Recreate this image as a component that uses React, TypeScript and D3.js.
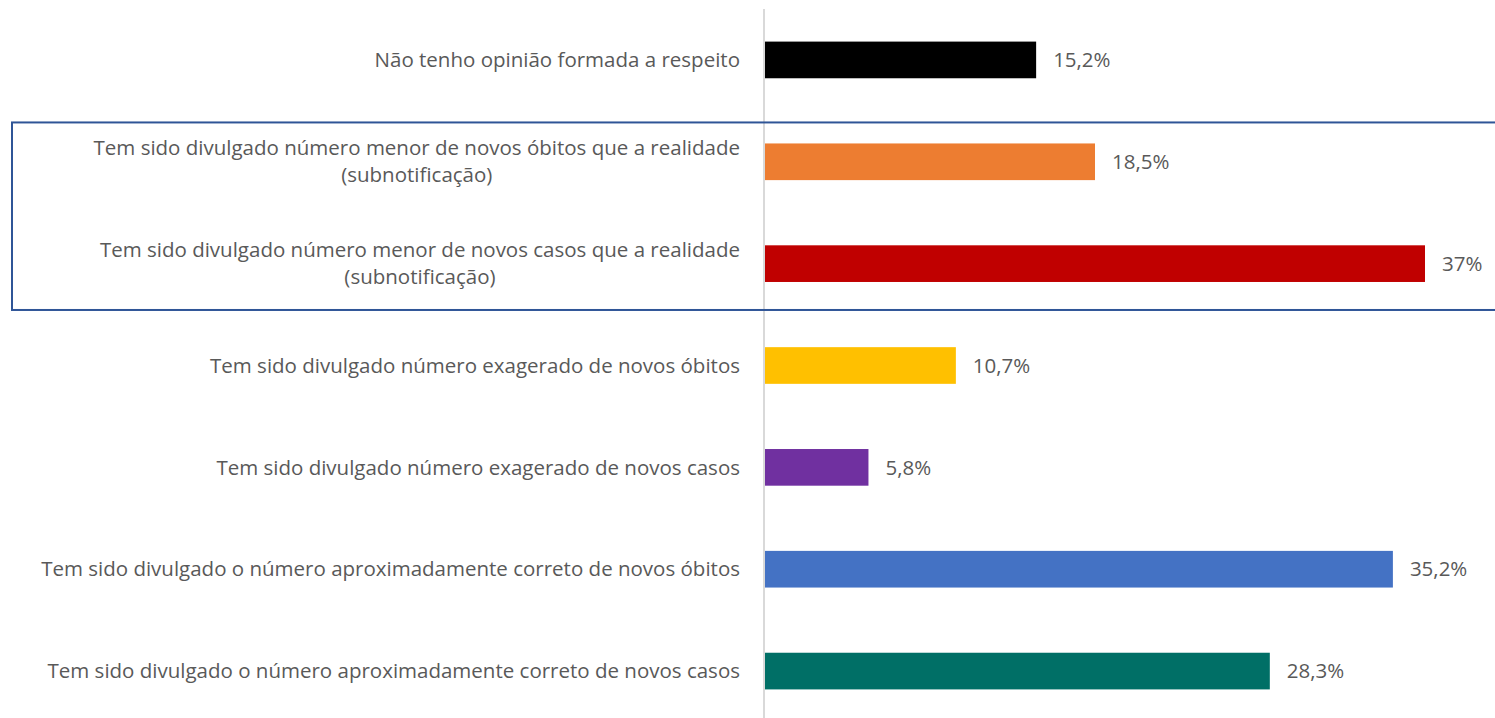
import React, { useEffect, useRef } from "react";
import * as d3 from "d3";

// Categories top to bottom, lines split where the label wraps
const categories: string[][] = [
  ["Não tenho opinião formada a respeito"],
  ["Tem sido divulgado número menor de novos óbitos que a realidade", "(subnotificação)"],
  ["Tem sido divulgado número menor de novos casos que a realidade", "(subnotificação)"],
  ["Tem sido divulgado número exagerado de novos óbitos"],
  ["Tem sido divulgado número exagerado de novos casos"],
  ["Tem sido divulgado o número aproximadamente correto de novos óbitos"],
  ["Tem sido divulgado o número aproximadamente correto de novos casos"],
];
const values: number[] = [15.2, 18.5, 37, 10.7, 5.8, 35.2, 28.3];
const valueLabels: string[] = ["15,2%", "18,5%", "37%", "10,7%", "5,8%", "35,2%", "28,3%"];
const colors: string[] = ["#000000", "#ED7D31", "#C00000", "#FFC000", "#7030A0", "#4472C4", "#006F66"];
// rows framed by the blue box
const highlighted: number[] = [1, 2];

const WIDTH = 1495;
const HEIGHT = 718;

const App = () => {
  const ref = useRef<SVGSVGElement>(null);

  useEffect(() => {
    const svg = d3.select(ref.current);
    svg.selectAll("*").remove();

    const axisX = 764;
    const labelRight = 740;
    const x = d3.scaleLinear().domain([0, 37]).range([axisX + 1, 1425]);
    const y = d3
      .scaleBand<number>()
      .domain(values.map((_, i) => i))
      .range([9, 722])
      .paddingInner(0.64)
      .paddingOuter(0.32);

    const font = "'Open Sans', sans-serif";
    const fontSize = 20.5;
    const textColor = "#595959";

    // bars
    svg
      .selectAll(".bar")
      .data(values)
      .enter()
      .append("rect")
      .attr("class", "bar")
      .attr("x", x(0))
      .attr("y", (_, i) => y(i)!)
      .attr("width", (d) => x(d) - x(0))
      .attr("height", y.bandwidth())
      .attr("fill", (_, i) => colors[i]);

    // value labels
    svg
      .selectAll(".val")
      .data(values)
      .enter()
      .append("text")
      .attr("class", "val")
      .attr("x", (d) => x(d) + 17)
      .attr("y", (_, i) => y(i)! + y.bandwidth() / 2)
      .attr("dy", "0.35em")
      .attr("font-family", font)
      .attr("font-size", fontSize)
      .attr("fill", textColor)
      .text((_, i) => valueLabels[i]);

    // category labels: block right-aligned, lines centred inside it
    const lineH = 27;
    const cat = svg
      .selectAll(".cat")
      .data(categories)
      .enter()
      .append("text")
      .attr("class", "cat")
      .attr("text-anchor", "middle")
      .attr("font-family", font)
      .attr("font-size", fontSize)
      .attr("fill", textColor);
    cat.each(function (lines, i) {
      const cy = y(i)! + y.bandwidth() / 2;
      const spans = d3
        .select(this)
        .selectAll("tspan")
        .data(lines)
        .enter()
        .append("tspan")
        .attr("y", (_, j) => cy + (j - (lines.length - 1) / 2) * lineH)
        .attr("dy", "0.35em")
        .text((d) => d);
      let maxW = 0;
      spans.each(function () {
        maxW = Math.max(maxW, (this as SVGTSpanElement).getComputedTextLength());
      });
      spans.attr("x", labelRight - maxW / 2);
    });

    // vertical axis line
    svg
      .append("line")
      .attr("x1", axisX)
      .attr("x2", axisX)
      .attr("y1", 9)
      .attr("y2", HEIGHT)
      .attr("stroke", "#D9D9D9")
      .attr("stroke-width", 2);

    // highlight box
    const first = highlighted[0];
    const last = highlighted[highlighted.length - 1];
    const top = y(first)! - 21;
    const bottom = y(last)! + y.bandwidth() + 28;
    svg
      .append("rect")
      .attr("x", 12)
      .attr("y", top)
      .attr("width", WIDTH + 10)
      .attr("height", bottom - top)
      .attr("fill", "none")
      .attr("stroke", "#2F5597")
      .attr("stroke-width", 2);
  }, []);

  return (
    <svg
      ref={ref}
      width={WIDTH}
      height={HEIGHT}
      style={{ position: "absolute", left: 0, top: 0, background: "#fff" }}
    />
  );
};

export default App;
